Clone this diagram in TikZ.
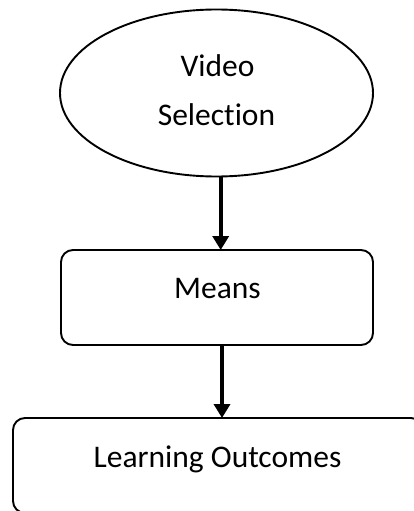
\documentclass[tikz,border=0pt]{standalone}
\usepackage{fontspec}
\setmainfont[Ligatures=NoCommon]{Carlito}
\usetikzlibrary{arrows.meta,shapes.geometric}
\begin{document}
\begin{tikzpicture}[x=1pt,y=-1pt,
  outline/.style={draw=black,line width=1.9pt,inner sep=0pt,outer sep=0pt},
  roundbox/.style={outline,rectangle,rounded corners=12pt},
  txt/.style={anchor=base,inner sep=0pt,font=\fontsize{31.5}{38}\selectfont},
  flow/.style={line width=3.6pt,-{Triangle[width=16pt,length=14pt]}}]
\useasboundingbox (0,0) rectangle (414,511);
\begin{scope}
\clip (0,0) rectangle (414,511);
% shapes
\node[outline,ellipse,minimum width=313pt,minimum height=167pt] (video) at (216.5,93) {};
\node[roundbox,minimum width=312pt,minimum height=95pt] (means) at (217,297.5) {};
\node[roundbox,minimum width=410pt,minimum height=95pt] (outcomes) at (218,465.5) {};
% texts
\node[txt] (t1) at (217.5,77) {Video};
\node[txt] (t2) at (216.5,125) {Selection};
\node[txt] (t3) at (217.5,298) {Means};
\node[txt] (t4) at (217.5,467) {Learning Outcomes};
% connectors
\coordinate (c1) at (220.7,0);
\coordinate (c2) at (222,0);
\draw[flow] (video.south -| c1) -- (means.north -| c1);
\draw[flow] (means.south -| c2) -- (outcomes.north -| c2);
\end{scope}
\end{tikzpicture}
\end{document}
